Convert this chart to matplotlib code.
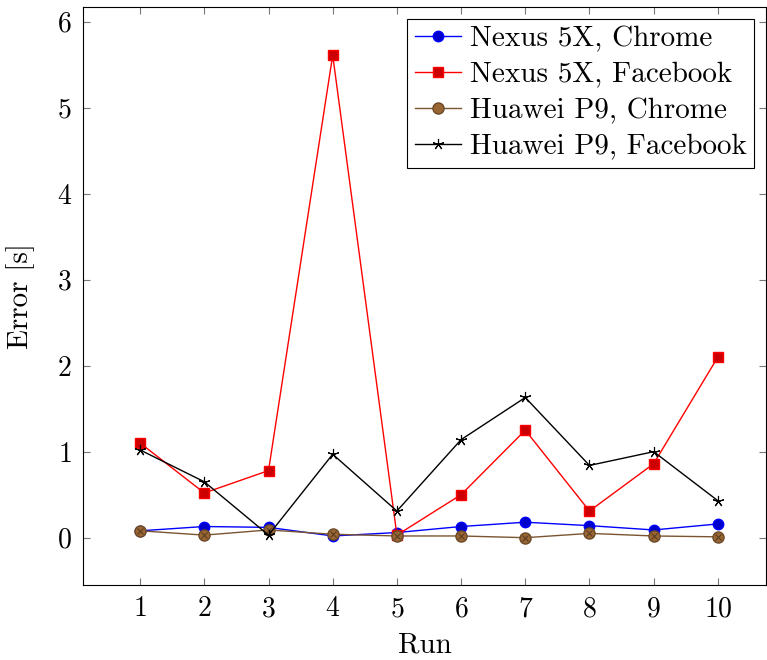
import numpy as np
import matplotlib.pyplot as plt

plt.rcParams['font.family'] = 'cmr10'
plt.rcParams['mathtext.fontset'] = 'cm'
plt.rcParams['axes.formatter.use_mathtext'] = True

runs = [1, 2, 3, 4, 5, 6, 7, 8, 9, 10]
nexus_chrome = [0.08, 0.13, 0.12, 0.02, 0.06, 0.13, 0.18, 0.14, 0.09, 0.16]
nexus_fb = [1.10, 0.52, 0.78, 5.61, 0.03, 0.50, 1.25, 0.31, 0.86, 2.10]
huawei_chrome = [0.08, 0.03, 0.09, 0.04, 0.02, 0.02, 0.00, 0.05, 0.02, 0.01]
huawei_fb = [1.02, 0.65, 0.03, 0.97, 0.31, 1.14, 1.63, 0.84, 1.00, 0.43]

fig = plt.figure(figsize=(7.67, 6.6), dpi=100)
ax = fig.add_axes([83/767, 1-585/660, (766-83)/767, (585-7)/660])

ax.plot(runs, nexus_chrome, color='blue', lw=1, marker='o', ms=7.5,
        mfc='#0000cc', mec='blue', label='Nexus 5X, Chrome')
ax.plot(runs, nexus_fb, color='red', lw=1, marker='s', ms=7.5,
        mfc='#cc0000', mec='red', label='Nexus 5X, Facebook')
ax.plot(runs, huawei_chrome, color='#7a5530', lw=1, marker='o', ms=8,
        mfc='#996633', mec='#6b4a2a', label='Huawei P9, Chrome')
ax.plot(runs, huawei_chrome, ls='none', marker='x', ms=5, mec='#5a3d20', mew=0.8)
ax.plot(runs, huawei_fb, color='black', lw=1, marker=(5, 2, 0), ms=8,
        mew=0.8, label='Huawei P9, Facebook')

ax.set_xlim(0.11, 10.75)
ax.set_ylim(-0.55, 6.17)
ax.set_xticks(runs)
ax.set_yticks(range(0, 7))
ax.tick_params(direction='in', top=True, right=True, length=5, color='#777777',
               labelsize=20, pad=8)
ax.set_xlabel('Run', fontsize=21, labelpad=7)
ax.set_ylabel('Error [s]', fontsize=21, labelpad=16)

leg = ax.legend(loc='upper right', fontsize=21, fancybox=False, edgecolor='black',
                framealpha=1, borderaxespad=0.4, handlelength=1.6, labelspacing=0.33,
                borderpad=0.25, handletextpad=0.3)
leg.get_frame().set_linewidth(0.8)

plt.savefig('out.png', dpi=100)
